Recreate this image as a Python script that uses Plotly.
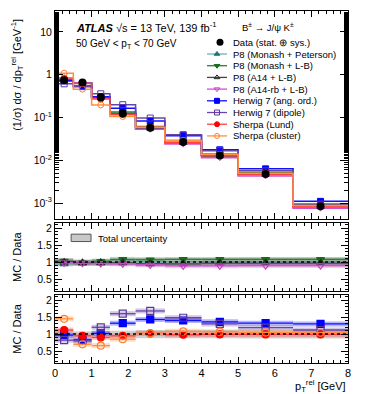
import plotly.graph_objects as go

# bins in p_T^rel [GeV]
edges = [0, 0.5, 1, 1.5, 2.2, 3, 4, 5, 6.5, 8]
centers = [0.25, 0.75, 1.25, 1.85, 2.6, 3.5, 4.5, 5.75, 7.25]

# normalised cross-section, data
data = [0.75, 0.66, 0.30, 0.125, 0.058, 0.027, 0.013, 0.0048, 0.00085]
tot_unc = [0.12, 0.08, 0.10, 0.10, 0.12, 0.12, 0.12, 0.13, 0.13]

# MC / Data ratios
p8_mon_pet = [0.95, 0.97, 0.99, 1.02, 0.98, 0.96, 0.97, 0.97, 0.97]
p8_mon_lb = [1.03, 0.98, 1.02, 1.08, 1.07, 1.08, 1.08, 1.08, 1.08]
p8_a14_lb = [1.00, 0.98, 0.98, 0.98, 0.95, 0.95, 0.97, 0.97, 0.97]
p8_a14rb_lb = [0.98, 0.97, 0.96, 0.95, 0.92, 0.89, 0.89, 0.90, 0.90]
hw_ang = [0.97, 0.83, 1.02, 1.32, 1.43, 1.40, 1.36, 1.32, 1.30]
hw_dip = [0.82, 0.80, 1.20, 1.60, 1.68, 1.48, 1.30, 1.19, 1.12]
sh_lund = [1.12, 0.95, 0.90, 0.95, 1.02, 0.98, 0.99, 0.99, 0.99]
sh_clus = [1.45, 0.70, 0.66, 0.85, 1.02, 1.08, 1.07, 1.05, 1.04]

# name, ratio, line colour, marker colour, symbol, panel
models = [
    ("P8 (Monash + Peterson)", p8_mon_pet, "#6cb4b4", "#1d7575", "triangle-up", 2),
    ("P8 (Monash + L-B)", p8_mon_lb, "#2e7d32", "#1b6b1b", "triangle-down", 2),
    ("P8 (A14 + L-B)", p8_a14_lb, "#444444", "#222222", "triangle-up-open", 2),
    ("P8 (A14-rb + L-B)", p8_a14rb_lb, "#d050d0", "#c040c0", "triangle-down-open", 2),
    ("Herwig 7 (ang. ord.)", hw_ang, "#1010ff", "#0000ff", "square", 3),
    ("Herwig 7 (dipole)", hw_dip, "#6a45a8", "#5a3698", "square-open", 3),
    ("Sherpa (Lund)", sh_lund, "#ff4040", "#ff0000", "circle", 3),
    ("Sherpa (cluster)", sh_clus, "#ff9040", "#ff8030", "circle-open", 3),
]

FONT = "Liberation Sans, Arial, sans-serif"
halfw = [(edges[i + 1] - edges[i]) / 2 for i in range(len(centers))]
widths = [edges[i + 1] - edges[i] for i in range(len(centers))]

fig = go.Figure()

# main panel: step histograms
for name, ratio, lc, mc, sym, panel in models:
    vals = [r * d for r, d in zip(ratio, data)]
    fig.add_trace(go.Scatter(x=edges, y=vals + [vals[-1]], mode="lines", line_shape="hv",
                             line=dict(color=lc, width=1.5), showlegend=False,
                             xaxis="x", yaxis="y"))
for name, ratio, lc, mc, sym, panel in models:
    vals = [r * d for r, d in zip(ratio, data)]
    fig.add_trace(go.Scatter(x=centers, y=vals, mode="markers",
                             marker=dict(symbol=sym, color=mc, size=6, line=dict(color=mc, width=1)),
                             showlegend=False, xaxis="x", yaxis="y"))
fig.add_trace(go.Scatter(x=centers, y=data, mode="markers",
                         marker=dict(symbol="circle", color="black", size=8),
                         error_y=dict(type="data", array=[d * u for d, u in zip(data, tot_unc)],
                                      color="black", thickness=1.2, width=0),
                         showlegend=False, xaxis="x", yaxis="y"))

# ratio panels
for ax in (2, 3):
    fig.add_trace(go.Bar(x=centers, y=[2 * u for u in tot_unc], base=[1 - u for u in tot_unc],
                         width=widths, marker=dict(color="#cfcfcf", line=dict(width=0)),
                         showlegend=False, xaxis="x%d" % ax, yaxis="y%d" % ax))
for name, ratio, lc, mc, sym, panel in models:
    fig.add_trace(go.Scatter(x=centers, y=ratio, mode="markers", marker=dict(size=1, opacity=0),
                             error_x=dict(type="data", array=halfw, color=lc, thickness=5, width=0),
                             opacity=0.3, showlegend=False,
                             xaxis="x%d" % panel, yaxis="y%d" % panel))
for name, ratio, lc, mc, sym, panel in models:
    fig.add_trace(go.Scatter(x=centers, y=ratio, mode="markers",
                             marker=dict(symbol=sym, color=mc, size=7, line=dict(color=mc, width=1.2)),
                             error_x=dict(type="data", array=halfw, color=lc, thickness=1.3, width=0),
                             showlegend=False, xaxis="x%d" % panel, yaxis="y%d" % panel))

# legend (hand drawn, pixel-like axis over the main panel)
leg_names = ["Data (stat. ⊕ sys.)"] + [m[0] for m in models]
leg_y = [31.3 + 11.7 * i for i in range(len(leg_names))]
for i, (name, ratio, lc, mc, sym, panel) in enumerate(models):
    y = leg_y[i + 1]
    fig.add_trace(go.Scatter(x=[152, 172], y=[y, y], mode="lines", line=dict(color=lc, width=1.3),
                             showlegend=False, xaxis="x4", yaxis="y4", hoverinfo="skip"))
    fig.add_trace(go.Scatter(x=[162], y=[y], mode="markers",
                             marker=dict(symbol=sym, color=mc, size=5, line=dict(color=mc, width=1)),
                             showlegend=False, xaxis="x4", yaxis="y4", hoverinfo="skip"))
fig.add_trace(go.Scatter(x=[165], y=[leg_y[0]], mode="markers",
                         marker=dict(symbol="circle", color="black", size=7),
                         showlegend=False, xaxis="x4", yaxis="y4", hoverinfo="skip"))

annotations = []
for name, y in zip(leg_names, leg_y):
    annotations.append(dict(x=176, y=y, xref="x4", yref="y4", text=name, showarrow=False,
                            xanchor="left", yanchor="middle", font=dict(size=9.5, family=FONT)))
annotations += [
    dict(x=19, y=16, xref="x4", yref="y4", showarrow=False, xanchor="left", yanchor="middle",
         text="<b><i>ATLAS</i></b> √s = 13 TeV, 139 fb<sup>-1</sup>", font=dict(size=11, family=FONT)),
    dict(x=185, y=16, xref="x4", yref="y4", showarrow=False, xanchor="left", yanchor="middle",
         text="B<sup>±</sup> → J/ψ K<sup>±</sup>", font=dict(size=9.5, family=FONT)),
    dict(x=19, y=33, xref="x4", yref="y4", showarrow=False, xanchor="left", yanchor="middle",
         text="50 GeV &lt; p<sub>T</sub> &lt; 70 GeV", font=dict(size=10, family=FONT)),
    dict(x=-0.128, y=0.82, xref="paper", yref="paper", showarrow=False, textangle=-90,
         xanchor="center", yanchor="middle",
         text="(1/σ) dσ / dp<sub>T</sub><sup>rel</sup> [GeV<sup>-1</sup>]", font=dict(size=11, family=FONT)),
    dict(x=-0.13, y=0.301, xref="paper", yref="paper", showarrow=False, textangle=-90,
         xanchor="center", yanchor="middle", text="MC / Data", font=dict(size=11, family=FONT)),
    dict(x=-0.13, y=0.097, xref="paper", yref="paper", showarrow=False, textangle=-90,
         xanchor="center", yanchor="middle", text="MC / Data", font=dict(size=11, family=FONT)),
    dict(x=1, y=-0.064, xref="paper", yref="paper", showarrow=False, xanchor="right", yanchor="middle",
         text="p<sub>T</sub><sup>rel</sup> [GeV]", font=dict(size=11, family=FONT)),
    dict(x=0.14, y=0.355, xref="paper", yref="paper", showarrow=False, xanchor="left", yanchor="middle",
         text="Total uncertainty", font=dict(size=9.5, family=FONT)),
]

shapes = [
    dict(type="rect", xref="paper", yref="paper", x0=0.055, x1=0.123, y0=0.345, y1=0.366,
         fillcolor="#c8c8c8", line=dict(color="#555555", width=1)),
]
for ax in (2, 3):
    shapes.append(dict(type="line", xref="x%d" % ax, yref="y%d" % ax, x0=0, x1=8, y0=1, y1=1,
                       line=dict(color="black", width=1.5, dash="dot")))

xcommon = dict(range=[0, 8], showline=True, linecolor="black", linewidth=1, mirror="allticks",
               ticks="inside", ticklen=6, tickcolor="black", dtick=1, tick0=0, showgrid=False,
               zeroline=False, minor=dict(ticks="inside", ticklen=3, dtick=0.2, tickcolor="black"),
               tickfont=dict(size=11, family=FONT))
ycommon = dict(showline=True, linecolor="black", linewidth=1, mirror="allticks", ticks="inside",
               tickcolor="black", showgrid=False, zeroline=False, tickfont=dict(size=10.5, family=FONT))

# the page body adds an 8 px margin, so the figure is 8 px smaller and margins shifted
fig.update_layout(
    width=360, height=386,
    margin=dict(l=47, r=20, t=3, b=31),
    paper_bgcolor="white", plot_bgcolor="rgba(0,0,0,0)",
    font=dict(family=FONT, color="black"),
    barmode="overlay",
    xaxis=dict(xcommon, anchor="y", showticklabels=False),
    yaxis=dict(ycommon, type="log", domain=[0.409, 1], range=[-3.37, 1.49], ticklen=8,
               tickvals=[0.001, 0.01, 0.1, 1, 10],
               ticktext=["10<sup>-3</sup>", "10<sup>-2</sup>", "10<sup>-1</sup>", "1", "10"],
               minor=dict(ticks="inside", ticklen=4, tickcolor="black")),
    xaxis2=dict(xcommon, anchor="y2", matches="x", showticklabels=False),
    yaxis2=dict(ycommon, domain=[0.2045, 0.3977], range=[0.15, 2.15], tickvals=[0.5, 1, 1.5, 2],
                ticktext=["0.5", "1", "1.5", "2"], ticklen=7,
                minor=dict(ticks="inside", ticklen=3, dtick=0.1, tickcolor="black")),
    xaxis3=dict(xcommon, anchor="y3", matches="x"),
    yaxis3=dict(ycommon, domain=[0, 0.1932], range=[0.15, 2.15], tickvals=[0.5, 1, 1.5, 2],
                ticktext=["0.5", "1", "1.5", "2"], ticklen=7,
                minor=dict(ticks="inside", ticklen=3, dtick=0.1, tickcolor="black")),
    xaxis4=dict(domain=[0, 1], range=[0, 293], anchor="y4", visible=False, fixedrange=True),
    yaxis4=dict(domain=[0.409, 1], range=[208, 0], anchor="x4", visible=False, fixedrange=True),
    annotations=annotations,
    shapes=shapes,
)

fig.write_html("out.html")
